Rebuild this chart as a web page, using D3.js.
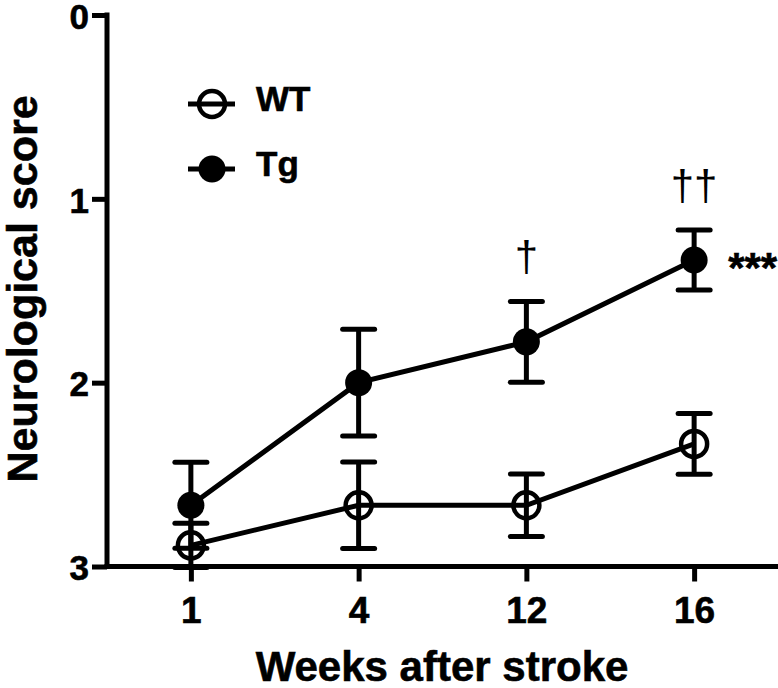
<!DOCTYPE html>
<html>
<head>
<meta charset="utf-8">
<script src="https://cdn.jsdelivr.net/npm/d3@7/dist/d3.min.js"></script>
<style>
  html, body { margin: 0; padding: 0; background: #fff; }
  svg text { font-family: "Liberation Sans", Arial, sans-serif; }
  .heavy { stroke: #000; stroke-width: 0.6px; }
</style>
</head>
<body>
<svg id="chart" width="778" height="688"></svg>
<script>
// ---- data ----
const weeks = ["1", "4", "12", "16"];
const wtMean = [2.885, 2.667, 2.667, 2.333];
const wtSem  = [0.12, 0.235, 0.17, 0.165];
const tgMean = [2.667, 2.0, 1.778, 1.333];
const tgSem  = [0.234, 0.29, 0.22, 0.163];
const tgAnnot = ["", "", "\u2020", "\u2020\u2020"];
const yTicks = [0, 1, 2, 3];
const seriesNames = ["WT", "Tg"];
const sigLabel = "***";

// ---- layout ----
const svg = d3.select("#chart");
const x = d3.scalePoint().domain(weeks).range([107, 778]).padding(0.5);
const y = d3.scaleLinear().domain([0, 3]).range([15, 566.5]);
const SW = 5;      // stroke width
const R = 13.5;    // marker radius
const CAP = 16;    // half cap width

// axes
const yAxis = d3.axisLeft(y).tickValues(yTicks).tickFormat(d3.format("d")).tickSize(15).tickPadding(4);
const gy = svg.append("g").attr("transform", "translate(107,0)").call(yAxis);
gy.select(".domain").attr("d", `M0,${y(0)-2.5}V${y(3)}`).attr("stroke", "#000").attr("stroke-width", SW).attr("fill", "none");
gy.selectAll(".tick line").attr("stroke", "#000").attr("stroke-width", SW);
gy.selectAll(".tick text").attr("font-size", 35).attr("font-weight", "bold").attr("fill", "#000")
  .attr("class", "heavy").attr("x", -18).attr("dy", "0.38em");

const xAxis = d3.axisBottom(x).tickSize(15).tickPadding(12);
const gx = svg.append("g").attr("transform", `translate(0,${y(3)})`).call(xAxis);
gx.select(".domain").attr("d", "M104.5,0H778").attr("stroke", "#000").attr("stroke-width", SW).attr("fill", "none");
gx.selectAll(".tick line").attr("stroke", "#000").attr("stroke-width", SW);
gx.selectAll(".tick text").attr("font-size", 37).attr("font-weight", "bold").attr("fill", "#000")
  .attr("class", "heavy").attr("dy", "0.71em").attr("y", 30);

// axis titles
svg.append("text").attr("x", 442).attr("y", 681).attr("text-anchor", "middle").attr("class", "heavy")
  .attr("font-size", 42).attr("font-weight", "bold").text("Weeks after stroke");
svg.append("text").attr("transform", "translate(37,289) rotate(-90)").attr("text-anchor", "middle").attr("class", "heavy")
  .attr("font-size", 43).attr("font-weight", "bold").text("Neurological score");

// series
const series = [
  { name: seriesNames[0], mean: wtMean, sem: wtSem, filled: false },
  { name: seriesNames[1], mean: tgMean, sem: tgSem, filled: true }
];
const line = d3.line().x(d => x(d.w)).y(d => y(d.m));

series.forEach(s => {
  const pts = weeks.map((w, i) => ({ w, m: s.mean[i], e: s.sem[i] }));
  const g = svg.append("g");
  g.append("path").datum(pts).attr("d", line).attr("fill", "none").attr("stroke", "#000").attr("stroke-width", SW);
  const eb = g.selectAll(".eb").data(pts).join("g");
  eb.append("line").attr("x1", d => x(d.w)).attr("x2", d => x(d.w))
    .attr("y1", d => y(d.m - d.e)).attr("y2", d => y(d.m + d.e)).attr("stroke", "#000").attr("stroke-width", SW);
  eb.append("line").attr("x1", d => x(d.w) - CAP).attr("x2", d => x(d.w) + CAP)
    .attr("y1", d => y(d.m - d.e)).attr("y2", d => y(d.m - d.e)).attr("stroke", "#000").attr("stroke-width", SW).attr("stroke-linecap", "round");
  eb.append("line").attr("x1", d => x(d.w) - CAP).attr("x2", d => x(d.w) + CAP)
    .attr("y1", d => y(d.m + d.e)).attr("y2", d => y(d.m + d.e)).attr("stroke", "#000").attr("stroke-width", SW).attr("stroke-linecap", "round");
  g.selectAll(".pt").data(pts).join("circle")
    .attr("cx", d => x(d.w)).attr("cy", d => y(d.m))
    .attr("r", s.filled ? R : R - 0.5)
    .attr("fill", s.filled ? "#000" : "none")
    .attr("stroke", "#000").attr("stroke-width", s.filled ? 0 : 4.5);
});

// annotations (daggers above Tg)
svg.selectAll(".dag").data(weeks.map((w, i) => ({ w, t: tgAnnot[i], top: tgMean[i] - tgSem[i] })).filter(d => d.t))
  .join("text").attr("x", d => x(d.w)).attr("y", d => y(d.top) - 30)
  .attr("text-anchor", "middle").attr("font-size", 42).attr("fill", "#000").text(d => d.t);

svg.append("text").attr("x", x(weeks[3]) + 34).attr("y", y(tgMean[3]) + 22).attr("class", "heavy")
  .attr("font-size", 42).attr("font-weight", "bold").text(sigLabel);

// legend
const leg = svg.append("g");
series.forEach((s, i) => {
  const cy = 104 + i * 65;
  leg.append("line").attr("x1", 188).attr("x2", 235).attr("y1", cy).attr("y2", cy).attr("stroke", "#000").attr("stroke-width", SW);
  leg.append("circle").attr("cx", 212).attr("cy", cy).attr("r", s.filled ? R : R - 0.5)
    .attr("fill", s.filled ? "#000" : "none").attr("stroke", "#000").attr("stroke-width", s.filled ? 0 : 4.5);
  leg.append("text").attr("x", 256).attr("y", cy + 6.5).attr("class", "heavy")
    .attr("font-size", 35).attr("font-weight", "bold").text(s.name);
});
</script>
</body>
</html>
